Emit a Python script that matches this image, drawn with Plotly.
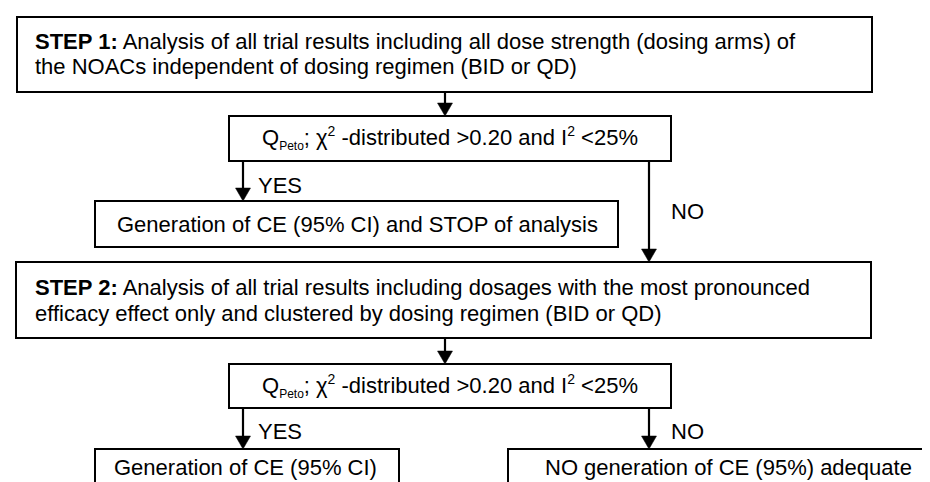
import plotly.graph_objects as go

# ---- content (texts) ----
step1_lines = ["<b>STEP 1:</b> Analysis of all trial results including all dose strength (dosing arms) of",
               "the NOACs independent of dosing regimen (BID or QD)"]
step2_lines = ["<b>STEP 2:</b> Analysis of all trial results including dosages with the most pronounced",
               "efficacy effect only and clustered by dosing regimen (BID or QD)"]
test_label = ("Q<sub><span style='font-size:12px'>Peto</span></sub>; χ<sup><span style='font-size:14px'>2</span></sup>"
              " -distributed >0.20 and I<sup><span style='font-size:14px'>2</span></sup> <25%")
stop_label = "Generation of CE (95% CI) and STOP of analysis"
gen_label = "Generation of CE (95% CI)"
nogen_label = "NO generation of CE (95%) adequate"
branch_labels = ["YES", "NO"]

# ---- layout geometry (pixels) ----
W, H = 930, 482
FONT = "Liberation Sans, Arial, sans-serif"
FS = 22

boxes = [  # x0, y0, x1, y1
    (9, 9, 864, 84),       # step 1
    (221, 108, 663, 153),  # test 1
    (87, 193, 610, 239),   # stop
    (8, 254, 863, 330),    # step 2
    (221, 356, 663, 400),  # test 2
    (87, 441, 391, 520),   # gen
    (500, 441, 960, 520),  # no gen
]
arrows = [  # x, y_start, y_end(tip)
    (437, 84, 108),
    (235, 153, 193),
    (641, 153, 254),
    (437, 330, 356),
    (235, 400, 441),
    (641, 400, 441),
]

fig = go.Figure()
shapes = []
for (x0, y0, x1, y1) in boxes:
    shapes.append(dict(type="rect", xref="x", yref="y", x0=x0, y0=y0, x1=x1, y1=y1,
                       line=dict(color="black", width=2), fillcolor="rgba(0,0,0,0)"))
for (x, ys, ye) in arrows:
    hh, hw = 13, 7.5
    shapes.append(dict(type="line", xref="x", yref="y", x0=x, y0=ys, x1=x, y1=ye - hh + 1,
                       line=dict(color="black", width=2.2)))
    shapes.append(dict(type="path", xref="x", yref="y",
                       path=f"M {x-hw},{ye-hh} L {x+hw},{ye-hh} L {x},{ye} Z",
                       fillcolor="black", line=dict(color="black", width=0.5)))

annots = []
def txt(x, y, s, anchor="left"):
    annots.append(dict(x=x, y=y, xref="x", yref="y", text=s, showarrow=False,
                       xanchor=anchor, yanchor="middle", borderpad=0,
                       font=dict(family=FONT, size=FS, color="black")))

txt(26, 33, step1_lines[0])
txt(26, 58, step1_lines[1])
txt(442, 130, test_label, "center")
txt(249, 177, branch_labels[0])
txt(662, 203, branch_labels[1])
txt(349, 216, stop_label, "center")
txt(26, 279, step2_lines[0])
txt(26, 305, step2_lines[1])
txt(442, 378, test_label, "center")
txt(249, 423, branch_labels[0])
txt(662, 423, branch_labels[1])
txt(237, 459, gen_label, "center")
txt(720, 459, nogen_label, "center")

fig.update_layout(
    width=W, height=H,
    margin=dict(l=0, r=0, t=0, b=0),
    paper_bgcolor="white", plot_bgcolor="white",
    xaxis=dict(range=[0, W], visible=False, fixedrange=True),
    yaxis=dict(range=[H, 0], visible=False, fixedrange=True),
    shapes=shapes, annotations=annots, showlegend=False,
)
fig.write_html("out.html")
